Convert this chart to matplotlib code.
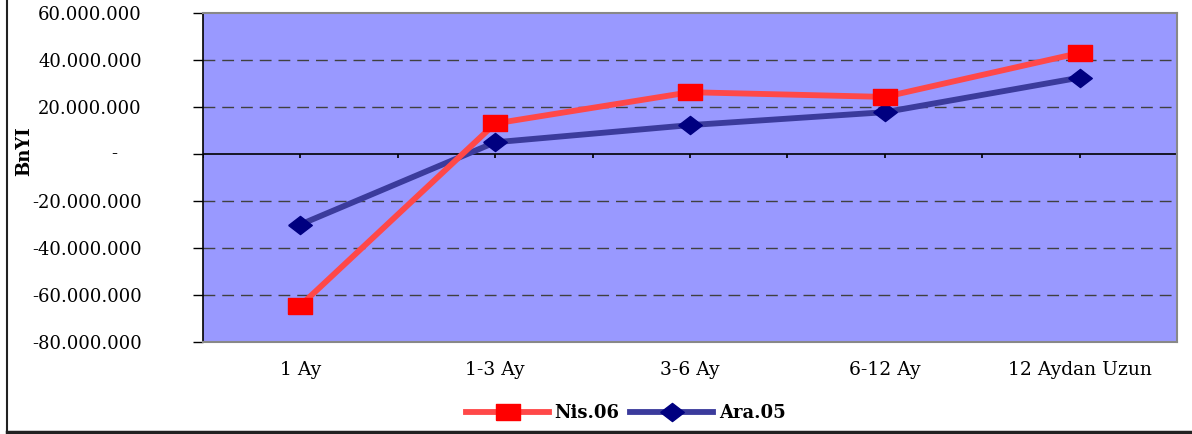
import matplotlib
matplotlib.use("Agg")
import matplotlib.pyplot as plt
import matplotlib.transforms as mtransforms
from matplotlib.lines import Line2D
from matplotlib.ticker import FuncFormatter
import numpy as np

categories = ["1 Ay", "1-3 Ay", "3-6 Ay", "6-12 Ay", "12 Aydan Uzun"]
nis06 = [-64500000, 13000000, 26300000, 24300000, 43000000]
ara05 = [-30000000, 5000000, 12300000, 17800000, 32500000]
yticks = [-80000000, -60000000, -40000000, -20000000, 0, 20000000, 40000000, 60000000]

plt.rcParams['font.family'] = ['DejaVu Serif', 'Liberation Serif']

fig = plt.figure(figsize=(11.92, 4.34), dpi=100)
ax = fig.add_axes([0.1703, 0.212, 0.8171, 0.758])
ax.set_facecolor('#9999FF')

# wide markers like the excel ones
sq = [(-1.4, -1), (1.4, -1), (1.4, 1), (-1.4, 1), (-1.4, -1)]
dia = [(-1.3, 0), (0, 1), (1.3, 0), (0, -1), (-1.3, 0)]

x = np.arange(len(categories))
ax.plot(x, nis06, color='#FF4848', lw=4.2, marker=sq, ms=17,
        markerfacecolor='#FF0000', markeredgecolor='#FF0000', label='Nis.06', zorder=4)
ax.plot(x, ara05, color='#3B3B9C', lw=4.2, marker=dia, ms=17,
        markerfacecolor='#000080', markeredgecolor='#000080', label='Ara.05', zorder=3)

ax.set_xlim(-0.5, len(categories) - 0.5)
ax.set_ylim(yticks[0], yticks[-1])
ax.set_yticks(yticks)

def fmt(v, pos):
    if v == 0:
        return ''
    return '{:,.0f}'.format(v).replace(',', '.')

ax.yaxis.set_major_formatter(FuncFormatter(fmt))
ax.tick_params(axis='y', labelsize=13, length=7, width=1, color='black', pad=37)
trans = mtransforms.blended_transform_factory(ax.transAxes, ax.transData)
ax.text(-0.088, 0, '-', transform=trans, ha='right', va='center', fontsize=13)

ax.set_xticks(x)
ax.set_xticklabels(categories, fontsize=13.5)
ax.tick_params(axis='x', length=0, pad=14)

for v in yticks[1:-1]:
    if v == 0:
        continue
    ax.axhline(v, color='#404040', lw=1, ls=(0, (8.5, 5)), zorder=1)
ax.axhline(0, color='black', lw=1.2, zorder=2)
ticks_x = np.arange(-0.5, len(categories) - 0.4, 0.5)
ax.vlines(ticks_x, -1800000, 0, color='black', lw=1.2, zorder=2)

for s in ['top', 'right', 'bottom']:
    ax.spines[s].set_color('#888888')
    ax.spines[s].set_linewidth(1.5)
ax.spines['left'].set_color('black')
ax.spines['left'].set_linewidth(1.2)

ax.set_ylabel('BnYI', fontsize=13, fontweight='bold', labelpad=0)
ax.yaxis.set_label_coords(-0.174, 0.58)

fig.legend(loc='center', bbox_to_anchor=(0.525, 0.048), ncol=2, frameon=False,
           prop={'weight': 'bold', 'size': 13}, handlelength=4.6,
           columnspacing=0.6, handletextpad=0.3)

fig.add_artist(Line2D([0.006, 0.006], [0.005, 1.0], color='#222222', lw=1.5))
fig.add_artist(Line2D([0.006, 1.0], [0.005, 0.005], color='#222222', lw=2.5))

fig.savefig('out.png', dpi=100)
